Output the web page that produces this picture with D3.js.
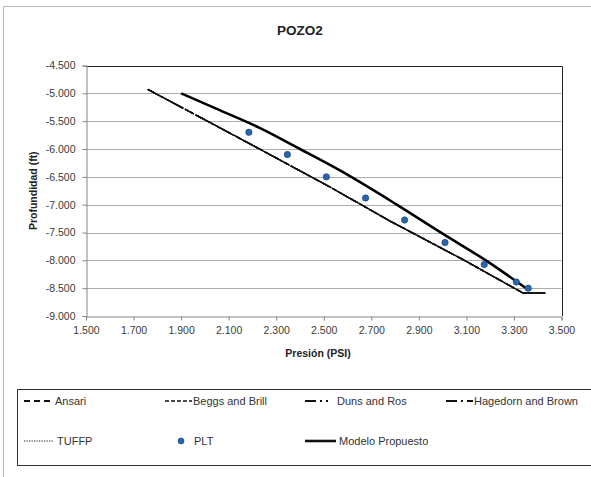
<!DOCTYPE html>
<html>
<head>
<meta charset="utf-8">
<script src="https://cdn.jsdelivr.net/npm/d3@7"></script>
<style>
  html, body { margin: 0; padding: 0; background: #fff; }
  svg { display: block; font-family: "Liberation Sans", Arial, sans-serif; }
</style>
</head>
<body>
<svg id="chart" width="591" height="477"></svg>
<script>
// Tick values for both axes
const presionTicks = [1500, 1700, 1900, 2100, 2300, 2500, 2700, 2900, 3100, 3300, 3500];
const profundidadTicks = [-4500, -5000, -5500, -6000, -6500, -7000, -7500, -8000, -8500, -9000];

// Correlation curves [presión psi, profundidad ft]
const ansari = [[1760, -4930], [2000, -5475], [2230, -6000], [2525, -6680], [2777, -7290], [3085, -7985], [3337, -8585], [3433, -8585]];
const beggsBrill = [[1760, -4930], [2000, -5475], [2230, -6000], [2525, -6680], [2777, -7290], [3085, -7985], [3337, -8585], [3433, -8585]];
const dunsRos = [[1760, -4930], [2000, -5475], [2230, -6000], [2525, -6680], [2777, -7290], [3085, -7985], [3337, -8585], [3433, -8585]];
const hagedornBrown = [[1760, -4930], [2000, -5475], [2230, -6000], [2525, -6680], [2777, -7290], [3085, -7985], [3337, -8585], [3433, -8585]];
const tuffp = [[1760, -4930], [2000, -5475], [2230, -6000], [2525, -6680], [2777, -7290], [3085, -7985], [3337, -8585], [3433, -8585]];

// Measured PLT data
const plt = [[2185, -5700], [2347, -6100], [2511, -6500], [2676, -6880], [2840, -7275], [3010, -7680], [3175, -8075], [3310, -8390], [3360, -8500]];

// Proposed model
const modeloPropuesto = [[1900, -5000], [2050, -5280], [2230, -5620], [2400, -6000], [2570, -6390], [2800, -6980], [3000, -7520], [3185, -8010], [3360, -8530]];

const series = [
  { name: "Ansari", data: ansari, dash: "7,4", width: 1.5 },
  { name: "Beggs and Brill", data: beggsBrill, dash: "4,2", width: 1.5 },
  { name: "Duns and Ros", data: dunsRos, dash: "12,4,2,4,2,4", width: 1.5 },
  { name: "Hagedorn and Brown", data: hagedornBrown, dash: "12,3,2,3,4,3", width: 1.5 },
  { name: "TUFFP", data: tuffp, dash: "1.5,1.5", width: 1.2 }
];

const svg = d3.select("#chart");
const fmt = v => d3.format(",")(v).replace(/,/g, ".").replace("−", "-");

// outer chart frame
svg.append("rect").attr("x", 3.5).attr("y", 6.5).attr("width", 620).attr("height", 500)
  .attr("fill", "#fff").attr("stroke", "#b8b8b8").attr("stroke-width", 1);

const x = d3.scaleLinear().domain([1500, 3500]).range([86, 561.5]);
const y = d3.scaleLinear().domain([-9000, -4500]).range([316, 65.5]);

// horizontal gridlines
svg.append("g").selectAll("line").data(profundidadTicks.slice(1, -1)).join("line")
  .attr("x1", x(1500)).attr("x2", x(3500))
  .attr("y1", d => Math.round(y(d)) + 0.5).attr("y2", d => Math.round(y(d)) + 0.5)
  .attr("stroke", "#acacac").attr("stroke-width", 1);

// plot area frame (top and right)
svg.append("path")
  .attr("d", `M${x(1500)},${Math.round(y(-4500)) + 0.5}H${Math.round(x(3500)) + 0.5}V${y(-9000)}`)
  .attr("fill", "none").attr("stroke", "#222").attr("stroke-width", 1);

// axes
const xAxis = d3.axisBottom(x).tickValues(presionTicks).tickFormat(fmt).tickSize(4).tickPadding(6);
const yAxis = d3.axisLeft(y).tickValues(profundidadTicks).tickFormat(fmt).tickSize(4).tickPadding(7);

const gx = svg.append("g").attr("transform", `translate(0,${Math.round(y(-9000)) + 0.5})`).call(xAxis);
const gy = svg.append("g").attr("transform", `translate(${Math.round(x(1500)) + 0.5},0)`).call(yAxis);
[gx, gy].forEach(g => {
  g.select(".domain").attr("stroke", "#868686");
  g.selectAll(".tick line").attr("stroke", "#868686");
  g.selectAll(".tick text").attr("fill", "#3a3a3a").style("font-size", "10.5px")
    .style("font-family", "\"Liberation Sans\", Arial, sans-serif");
});

// correlation curves
const line = d3.line().x(d => x(d[0])).y(d => y(d[1]));
svg.append("g").selectAll("path").data(series).join("path")
  .attr("d", d => line(d.data))
  .attr("fill", "none").attr("stroke", "#111")
  .attr("stroke-width", d => d.width).attr("stroke-dasharray", d => d.dash);

// proposed model (smoothed)
const smooth = d3.line().x(d => x(d[0])).y(d => y(d[1])).curve(d3.curveMonotoneX);
svg.append("path").attr("d", smooth(modeloPropuesto))
  .attr("fill", "none").attr("stroke", "#000").attr("stroke-width", 2.6);

// PLT points
svg.append("g").selectAll("circle").data(plt).join("circle")
  .attr("cx", d => x(d[0])).attr("cy", d => y(d[1])).attr("r", 3.2)
  .attr("fill", "#2a64ad").attr("stroke", "#163e78").attr("stroke-width", 0.6);

// titles
svg.append("text").attr("x", 300).attr("y", 35).attr("text-anchor", "middle")
  .style("font-size", "13.5px").style("font-weight", "bold").attr("fill", "#222").text("POZO2");
svg.append("text").attr("x", 318).attr("y", 357).attr("text-anchor", "middle")
  .style("font-size", "10.5px").style("font-weight", "bold").attr("fill", "#222").text("Presión (PSI)");
svg.append("text").attr("transform", `translate(37,${(y(-4500) + y(-9000)) / 2}) rotate(-90)`)
  .attr("text-anchor", "middle")
  .style("font-size", "10.5px").style("font-weight", "bold").attr("fill", "#222").text("Profundidad (ft)");

// legend
svg.append("rect").attr("x", 17.5).attr("y", 389.5).attr("width", 600).attr("height", 76)
  .attr("fill", "#fff").attr("stroke", "#333").attr("stroke-width", 1);

const legendItems = [
  { name: "Ansari", type: "line", dash: "6,4", width: 1.8, lx: 24, lw: 29, tx: 55, ty: 401 },
  { name: "Beggs and Brill", type: "line", dash: "4,2", width: 1.5, lx: 165, lw: 27, tx: 193, ty: 401 },
  { name: "Duns and Ros", type: "line", dash: "11,4,2,4,2,4", width: 1.8, lx: 305, lw: 27, tx: 337, ty: 401 },
  { name: "Hagedorn and Brown", type: "line", dash: "11,4,2,4,4,0", width: 1.8, lx: 446, lw: 27, tx: 474, ty: 401 },
  { name: "TUFFP", type: "line", dash: "1.2,1.3", width: 1.2, lx: 24, lw: 30, tx: 57, ty: 441 },
  { name: "PLT", type: "dot", lx: 181, tx: 194, ty: 441 },
  { name: "Modelo Propuesto", type: "line", dash: null, width: 2.6, lx: 305, lw: 31, tx: 339, ty: 441 }
];

const lg = svg.append("g");
legendItems.forEach(it => {
  if (it.type === "line") {
    lg.append("line").attr("x1", it.lx).attr("x2", it.lx + it.lw).attr("y1", it.ty).attr("y2", it.ty)
      .attr("stroke", "#111").attr("stroke-width", it.width)
      .attr("stroke-dasharray", it.dash);
  } else {
    lg.append("circle").attr("cx", it.lx).attr("cy", it.ty).attr("r", 3)
      .attr("fill", "#2a64ad").attr("stroke", "#163e78").attr("stroke-width", 0.6);
  }
  lg.append("text").attr("x", it.tx).attr("y", it.ty).attr("dy", "0.35em")
    .style("font-size", "11px").attr("fill", "#333").text(it.name);
});
</script>
</body>
</html>
